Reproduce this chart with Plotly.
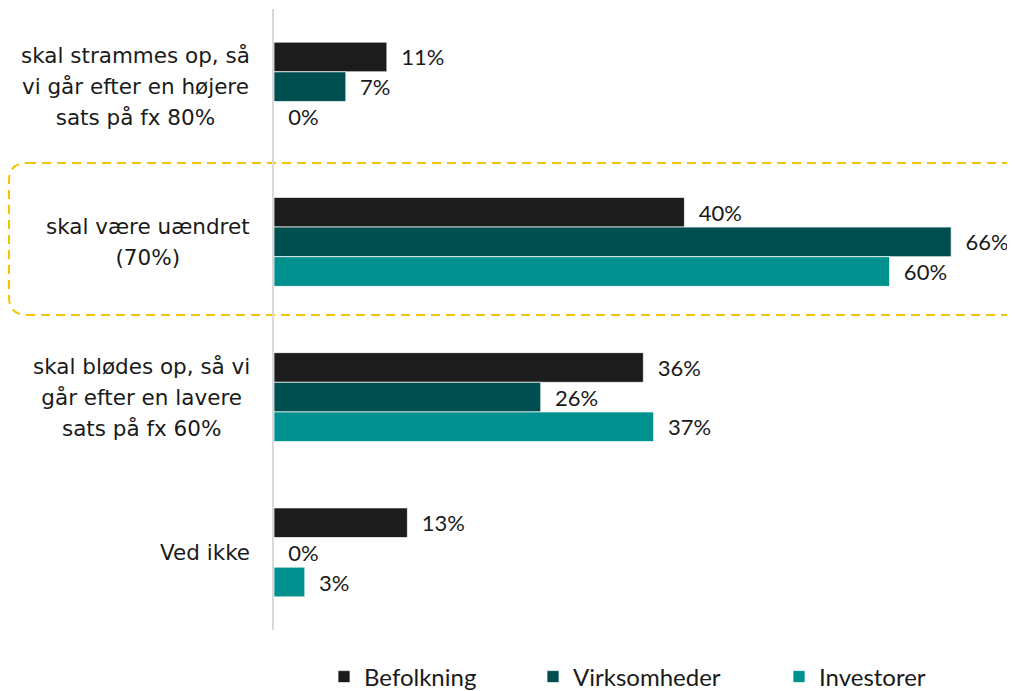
import plotly.graph_objects as go

categories = ["skal strammes op, så<br>vi går efter en højere<br>sats på fx 80%",
              "skal være uændret<br>(70%)",
              "skal blødes op, så vi<br>går efter en lavere<br>sats på fx 60%",
              "Ved ikke"]
cat_ids = ["c1", "c2", "c3", "c4"]
series_names = ["Befolkning", "Virksomheder", "Investorer"]
befolkning = [11, 40, 36, 13]
virksomheder = [7, 66, 26, 0]
investorer = [0, 60, 37, 3]
colors = ["#1c1c1c", "#004f50", "#00918f"]

# page body adds an 8px offset; compensate so screen coords match
OFF = 8
SW, SH = 1015, 691
W, H = SW - OFF, SH - OFF
PL, PT, PB = 274, 9, 630          # plot area in screen pixels
L, R, T, B = PL - OFF, 0, PT - OFF, H - (PB - OFF)
pw = SW - PL
ph = PB - PT
xmax = pw / 10.26

def px(x):
    return (x - PL) / pw

def py(y):
    return (PB - y) / ph

FONT = "Lato"
CATFONT = "DejaVu Sans"
fig = go.Figure()
values = [befolkning, virksomheder, investorer]
legend_x = [324, 533, 779]
for i, (name, vals) in enumerate(zip(series_names, values)):
    lg = "legend" if i == 0 else f"legend{i+1}"
    fig.add_trace(go.Bar(
        y=cat_ids, x=vals, name=name, orientation="h",
        marker=dict(color=colors[i], line=dict(color="rgba(255,255,255,0.7)", width=1)),
        texttemplate="\u00a0\u00a0%{x}%", textposition="outside",
        textfont=dict(family=FONT, size=22, color="#1a1a1a"),
        constraintext="none", cliponaxis=False, legend=lg,
    ))

# rounded dashed highlight
x0, x1, y0, y1, r = 9, 1040, 163, 315, 18
path = (f"M {px(x0+r)},{py(y0)} L {px(x1)},{py(y0)} "
        f"M {px(x1)},{py(y1)} L {px(x0+r)},{py(y1)} "
        f"Q {px(x0)},{py(y1)} {px(x0)},{py(y1-r)} "
        f"L {px(x0)},{py(y0+r)} Q {px(x0)},{py(y0)} {px(x0+r)},{py(y0)}")
fig.add_shape(type="path", path=path, xref="paper", yref="paper",
              line=dict(color="#f5c400", width=2, dash="9px,6px"), layer="below")

for cid, lab in zip(cat_ids, categories):
    lines = lab.split("<br>")
    txt = "<br>".join(f'<span style="font-size:21.5px">{l}</span>' for l in lines)
    fig.add_annotation(x=0, xref="paper", y=cid, yref="y", xanchor="right",
                       xshift=-22, text=txt, showarrow=False, align="center",
                       font=dict(family=CATFONT, size=24, color="#1a1a1a"))

legend_common = dict(orientation="h", yanchor="middle", xanchor="left",
                     font=dict(family=FONT, size=24, color="#1a1a1a"),
                     bgcolor="rgba(0,0,0,0)")
layout_legends = {}
for i, lx in enumerate(legend_x):
    key = "legend" if i == 0 else f"legend{i+1}"
    layout_legends[key] = dict(x=px(lx), y=py(677), **legend_common)

fig.update_layout(
    width=W, height=H,
    margin=dict(l=L, r=R, t=T, b=B, autoexpand=False),
    plot_bgcolor="white", paper_bgcolor="white",
    barmode="group", bargap=0.427, bargroupgap=0,
    xaxis=dict(range=[0, xmax], visible=False, fixedrange=True),
    yaxis=dict(categoryorder="array", categoryarray=cat_ids,
               range=[3.5, -0.5], showticklabels=False, ticks="",
               showline=True, linecolor="#d9d9d9", linewidth=2,
               showgrid=False, zeroline=False),
    showlegend=True,
    **layout_legends,
)

fig.write_html("out.html")
